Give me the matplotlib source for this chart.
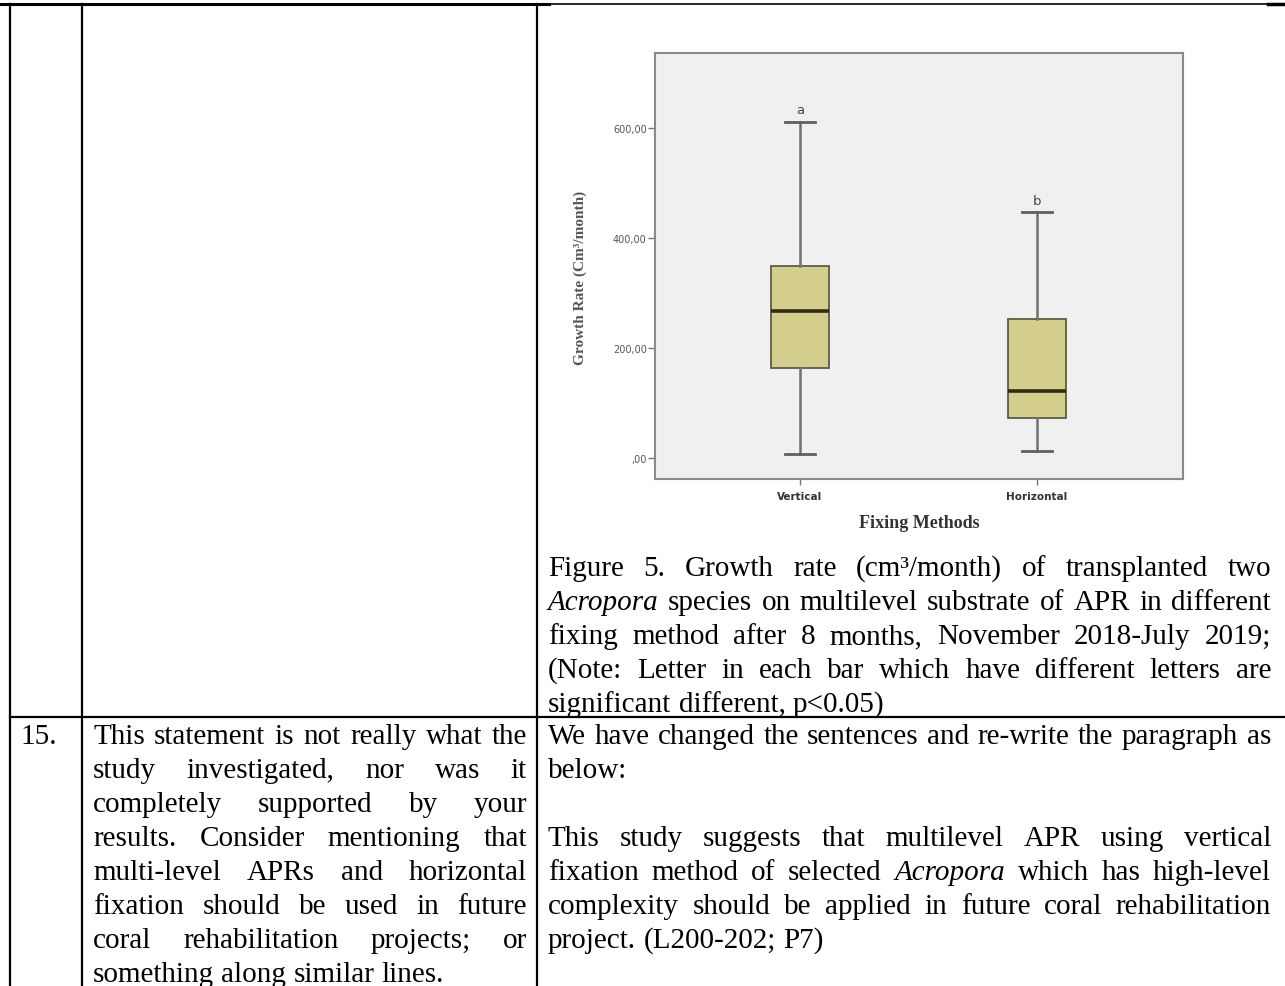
import matplotlib
matplotlib.use("Agg")
import matplotlib.pyplot as plt

# box plot values (cm3/month)
methods = ["Vertical", "Horizontal"]
whisker_low = [7, 13]
q1 = [164, 73]
median = [267, 122]
q3 = [349, 253]
whisker_high = [611, 447]
letters = ["a", "b"]
yticks = [0, 200, 400, 600]
ytick_labels = [",00", "200,00", "400,00", "600,00"]

# table text
caption = [
    "Figure 5. Growth rate (cm³/month) of transplanted two",
    "*Acropora* species on multilevel substrate of APR in different",
    "fixing method after 8 months, November 2018-July 2019;",
    "(Note: Letter in each bar which have different letters are",
    "significant different, p<0.05)",
]
row_number = "15."
reviewer = [
    "This statement is not really what the",
    "study investigated, nor was it",
    "completely supported by your",
    "results. Consider mentioning that",
    "multi-level APRs and horizontal",
    "fixation should be used in future",
    "coral rehabilitation projects; or",
    "something along similar lines.",
]
answer = [
    "We have changed the sentences and re-write the paragraph as",
    "below:",
    "",
    "This study suggests that multilevel APR using vertical",
    "fixation method of selected *Acropora* which has high-level",
    "complexity should be applied in future coral rehabilitation",
    "project. (L200-202; P7)",
]

W, H = 1285, 987
FS = 21
serif = "Liberation Serif"

fig = plt.figure(figsize=(W / 100, H / 100), dpi=100)
ax = fig.add_axes([0, 0, 1, 1])
ax.set_xlim(0, W)
ax.set_ylim(H, 0)
ax.axis("off")
renderer = fig.canvas.get_renderer()

# table borders
ax.plot([0, 549], [5, 5], color="black", lw=2.2)
ax.plot([549, 1268], [5, 5], color="black", lw=1.2)
ax.plot([1268, W], [5, 5], color="black", lw=2.5)
for xv in [10, 82, 537]:
    ax.plot([xv, xv], [5, H], color="black", lw=1.6)
ax.plot([10, W], [718, 718], color="black", lw=1.6)


def write_par(lines, x0, x1, y0, step=34):
    for i, line in enumerate(lines):
        if line == "":
            continue
        last = i == len(lines) - 1 or lines[i + 1] == ""
        y = y0 + i * step + 9
        objs = []
        for w in line.split(" "):
            it = w.startswith("*")
            objs.append(ax.text(x0, y, w.strip("*"), fontsize=FS, family=serif,
                                style="italic" if it else "normal",
                                va="baseline", ha="left"))
        widths = [o.get_window_extent(renderer).width for o in objs]
        if last or len(objs) == 1:
            gap = 0.25 * FS * 100 / 72
        else:
            gap = (x1 - x0 - sum(widths)) / (len(objs) - 1)
        x = x0
        for o, wd in zip(objs, widths):
            o.set_x(x)
            x += wd + gap


write_par(caption, 548, 1271, 567)
ax.text(20, 735 + 9, row_number, fontsize=FS, family=serif, va="baseline")
write_par(reviewer, 93, 527, 735)
write_par(answer, 548, 1271, 735)

# embedded box plot
bx = fig.add_axes([655 / W, 1 - 480 / H, 528 / W, 426 / H])
stats = []
for i in range(len(methods)):
    stats.append({"label": methods[i], "whislo": whisker_low[i], "q1": q1[i],
                  "med": median[i], "q3": q3[i], "whishi": whisker_high[i]})
bx.bxp(stats, positions=[0, 1], widths=0.245, capwidths=0.127,
       patch_artist=True, showfliers=False,
       boxprops=dict(facecolor="#d3ce8d", edgecolor="#5c5c48", lw=1.3),
       medianprops=dict(color="#2e2c12", lw=2.6),
       whiskerprops=dict(color="#707070", lw=1.8),
       capprops=dict(color="#606060", lw=2.0))
for i in range(len(methods)):
    bx.annotate(letters[i], (i, whisker_high[i]), xytext=(0, 4),
                textcoords="offset points", ha="center", va="bottom",
                fontsize=9.5, color="#444444")
bx.set_facecolor("#f0f0f0")
bx.set_xlim(-0.612, 1.616)
bx.set_ylim(-38, 736)
bx.set_yticks(yticks)
bx.set_yticklabels(ytick_labels)
bx.set_xticks([0, 1])
bx.set_xticklabels(methods)
bx.tick_params(axis="y", length=5, width=1, color="#777777", labelsize=7,
               labelcolor="#555555", pad=1)
bx.tick_params(axis="x", length=4, width=1, color="#777777", labelsize=7.5,
               labelcolor="#333333", pad=5)
for lbl in bx.get_xticklabels():
    lbl.set_fontweight("bold")
for sp in bx.spines.values():
    sp.set_color("#8a8a8a")
    sp.set_linewidth(1.5)

ax.text(580, 278, "Growth Rate (Cm³/month)", rotation=90, ha="center", va="center",
        fontsize=11, family=serif, fontweight="bold", color="#555555")
ax.text(919, 523, "Fixing Methods", ha="center", va="center",
        fontsize=13, family=serif, fontweight="bold", color="#333333")

fig.savefig("out.png", dpi=100)
